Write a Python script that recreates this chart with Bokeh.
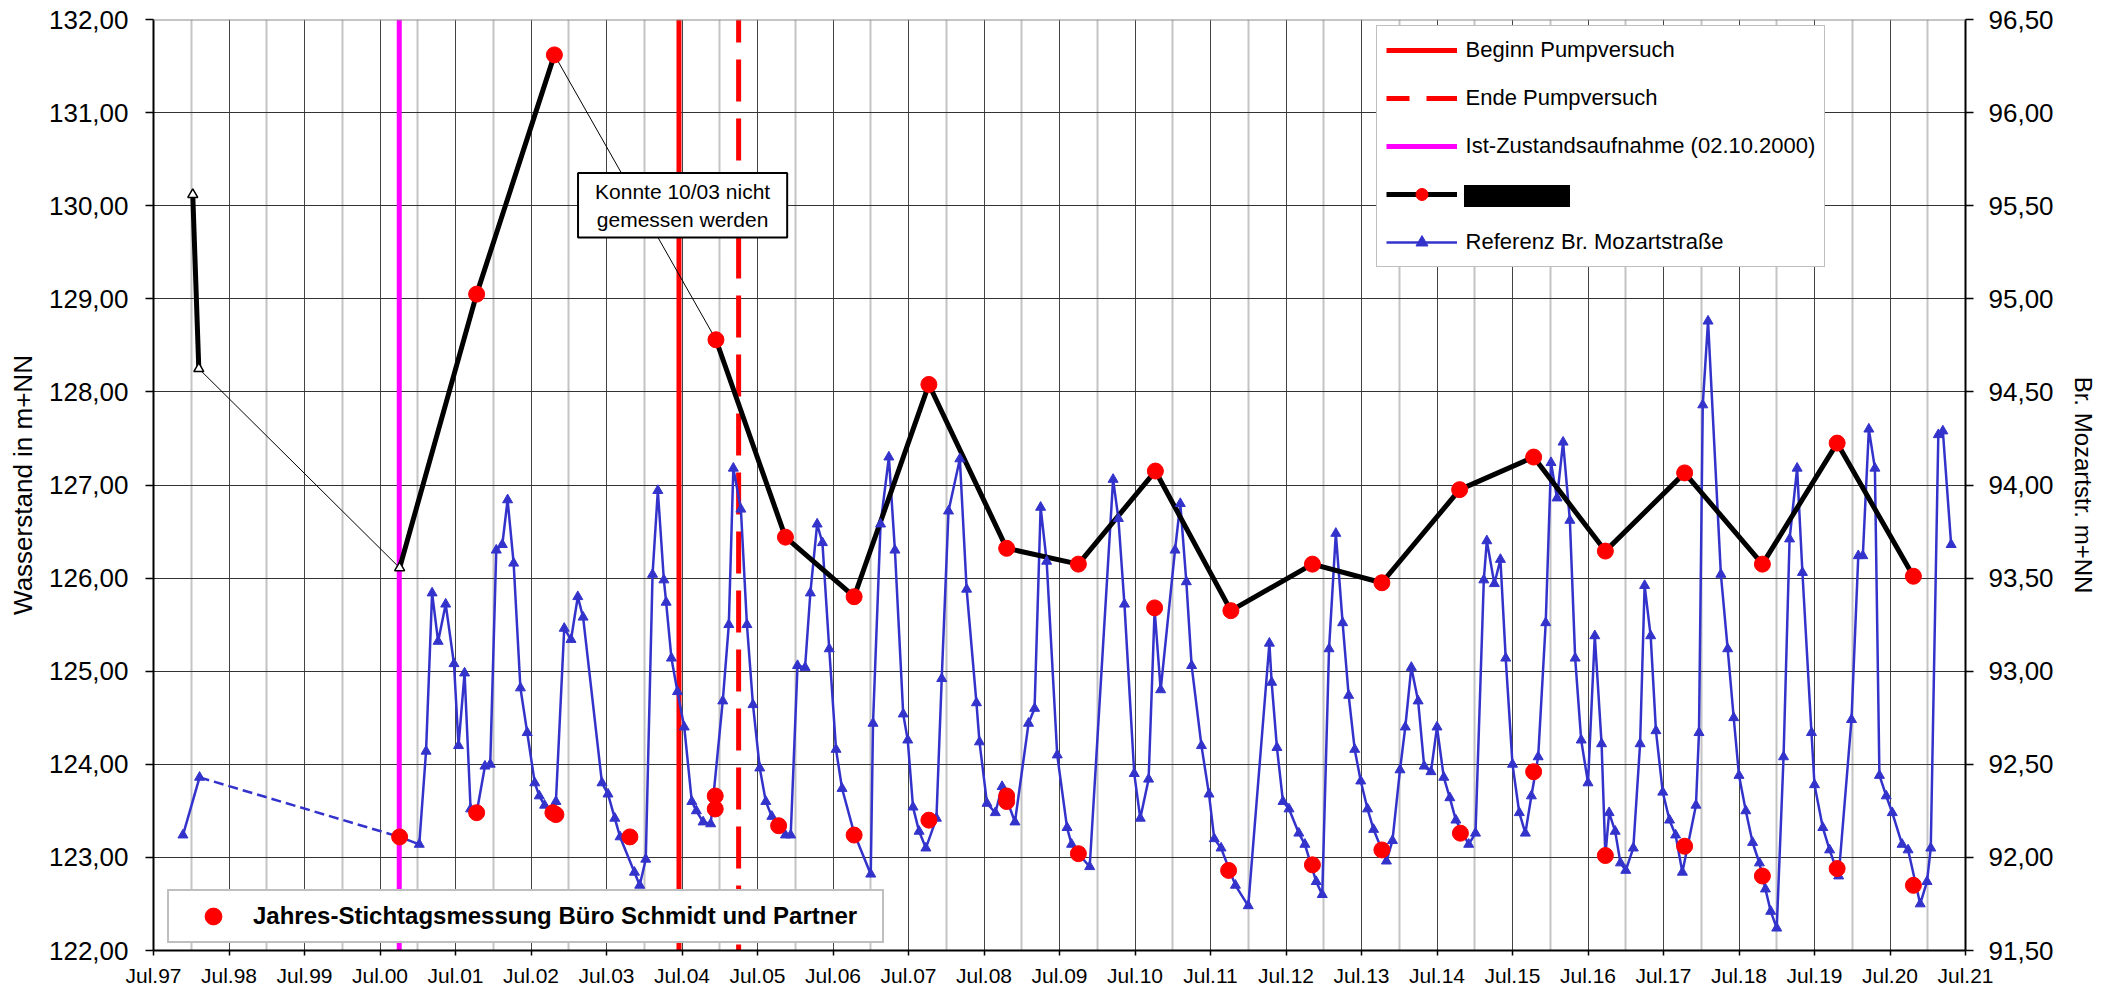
import numpy as np
from bokeh.plotting import figure
from bokeh.models import (Range1d, LinearAxis, FixedTicker, Legend, LegendItem,
                          Label, Span, CustomJSTickFormatter)
from bokeh.embed import file_html
from bokeh.resources import INLINE

FONT = "Liberation Sans"
BLUE = "#3333cc"

# ---------------- data ----------------
x_labels = ["Jul.97", "Jul.98", "Jul.99", "Jul.00", "Jul.01", "Jul.02", "Jul.03",
            "Jul.04", "Jul.05", "Jul.06", "Jul.07", "Jul.08", "Jul.09", "Jul.10",
            "Jul.11", "Jul.12", "Jul.13", "Jul.14", "Jul.15", "Jul.16", "Jul.17",
            "Jul.18", "Jul.19", "Jul.20", "Jul.21"]
x_ticks = [1997.5 + i for i in range(len(x_labels))]          # July of each year
x_minor = [1998 + i for i in range(len(x_labels) - 1)]        # January of each year
left_ticks = [122, 123, 124, 125, 126, 127, 128, 129, 130, 131, 132]
right_ticks = [91.5, 92.0, 92.5, 93.0, 93.5, 94.0, 94.5, 95.0, 95.5, 96.0, 96.5]

# events (decimal years)
pump_start = 2004.46      # Beginn Pumpversuch
pump_end = 2005.25        # Ende Pumpversuch
ist_date = 2000.755       # Ist-Zustandsaufnahme 02.10.2000

# Referenz Br. Mozartstrasse (right axis, m+NN), decimal years
ref_t = [1997.89, 1998.11, 2000.76, 2001.02, 2001.11, 2001.19, 2001.27, 2001.37, 2001.48, 2001.54,
         2001.62, 2001.70, 2001.78, 2001.89, 2001.96, 2002.04, 2002.12, 2002.19, 2002.27, 2002.36,
         2002.45, 2002.55, 2002.61, 2002.68, 2002.76, 2002.83, 2002.94, 2003.03, 2003.12, 2003.19,
         2003.44, 2003.52, 2003.61, 2003.68, 2003.87, 2003.94, 2004.02, 2004.11, 2004.18, 2004.26,
         2004.29, 2004.36, 2004.44, 2004.53, 2004.63, 2004.69, 2004.78, 2004.88, 2005.04, 2005.12,
         2005.18, 2005.28, 2005.36, 2005.44, 2005.53, 2005.61, 2005.69, 2005.87, 2005.94, 2006.03,
         2006.13, 2006.20, 2006.29, 2006.36, 2006.45, 2006.54, 2006.62, 2006.78, 2007.00, 2007.03,
         2007.13, 2007.24, 2007.32, 2007.43, 2007.49, 2007.56, 2007.64, 2007.73, 2007.87, 2007.94,
         2008.03, 2008.18, 2008.27, 2008.40, 2008.44, 2008.54, 2008.65, 2008.74, 2008.91, 2009.09,
         2009.17, 2009.25, 2009.33, 2009.47, 2009.60, 2009.66, 2009.75, 2009.90, 2010.21, 2010.28,
         2010.36, 2010.49, 2010.57, 2010.68, 2010.76, 2010.84, 2011.03, 2011.10, 2011.18, 2011.25,
         2011.38, 2011.48, 2011.55, 2011.64, 2011.83, 2012.00, 2012.28, 2012.31, 2012.38, 2012.46,
         2012.54, 2012.67, 2012.75, 2012.90, 2012.98, 2013.07, 2013.16, 2013.25, 2013.33, 2013.41,
         2013.49, 2013.58, 2013.66, 2013.83, 2013.91, 2014.01, 2014.08, 2014.16, 2014.25, 2014.33,
         2014.42, 2014.50, 2014.59, 2014.67, 2014.75, 2014.92, 2015.01, 2015.12, 2015.16, 2015.26,
         2015.34, 2015.41, 2015.50, 2015.59, 2015.67, 2015.75, 2015.84, 2015.94, 2016.01, 2016.09,
         2016.17, 2016.26, 2016.33, 2016.41, 2016.50, 2016.59, 2016.68, 2016.73, 2016.78, 2016.86,
         2016.93, 2017.00, 2017.10, 2017.19, 2017.25, 2017.33, 2017.40, 2017.49, 2017.58, 2017.66,
         2017.75, 2017.93, 2017.97, 2018.02, 2018.09, 2018.26, 2018.35, 2018.43, 2018.50, 2018.59,
         2018.68, 2018.77, 2018.85, 2018.92, 2019.00, 2019.09, 2019.17, 2019.27, 2019.34, 2019.46,
         2019.50, 2019.61, 2019.70, 2019.82, 2019.99, 2020.08, 2020.14, 2020.22, 2020.30, 2020.36,
         2020.45, 2020.53, 2020.66, 2020.74, 2020.90, 2020.99, 2021.04, 2021.14, 2021.20, 2021.31]
ref_v = [92.12, 92.43, 92.11, 92.07, 92.57, 93.42, 93.16, 93.36, 93.04, 92.60,
         92.99, 92.26, 92.24, 92.49, 92.50, 93.65, 93.68, 93.92, 93.58, 92.91,
         92.67, 92.40, 92.33, 92.28, 92.25, 92.30, 93.23, 93.17, 93.40, 93.29,
         92.40, 92.34, 92.21, 92.11, 91.92, 91.85, 91.99, 93.52, 93.97, 93.49,
         93.37, 93.07, 92.89, 92.70, 92.30, 92.25, 92.19, 92.18, 92.84, 93.25,
         94.09, 93.87, 93.25, 92.82, 92.48, 92.30, 92.22, 92.12, 92.12, 93.03,
         93.02, 93.42, 93.79, 93.69, 93.12, 92.58, 92.37, 92.13, 91.91, 92.72,
         93.79, 94.15, 93.65, 92.77, 92.63, 92.27, 92.14, 92.05, 92.21, 92.96,
         93.86, 94.14, 93.44, 92.83, 92.62, 92.29, 92.24, 92.38, 92.19, 92.72,
         92.80, 93.88, 93.59, 92.55, 92.16, 92.07, 92.02, 91.95, 94.03, 93.82,
         93.36, 92.45, 92.21, 92.42, 93.33, 92.90, 93.65, 93.90, 93.48, 93.03,
         92.60, 92.34, 92.10, 92.05, 91.85, 91.74, 93.15, 92.94, 92.59, 92.30,
         92.26, 92.13, 92.07, 91.87, 91.80, 93.12, 93.74, 93.26, 92.87, 92.58,
         92.41, 92.26, 92.15, 91.98, 92.09, 92.47, 92.70, 93.02, 92.84, 92.49,
         92.46, 92.70, 92.43, 92.32, 92.20, 92.07, 92.13, 93.49, 93.70, 93.47,
         93.60, 93.07, 92.50, 92.24, 92.13, 92.33, 92.54, 93.26, 94.12, 93.93,
         94.23, 93.81, 93.07, 92.63, 92.40, 93.19, 92.61, 92.01, 92.24, 92.14,
         91.97, 91.93, 92.05, 92.61, 93.46, 93.19, 92.68, 92.35, 92.20, 92.12,
         91.92, 92.28, 92.67, 94.43, 94.88, 93.52, 93.12, 92.75, 92.44, 92.25,
         92.08, 91.97, 91.83, 91.71, 91.62, 92.54, 93.71, 94.09, 93.53, 92.67,
         92.39, 92.16, 92.04, 91.90, 92.74, 93.62, 93.62, 94.30, 94.09, 92.44,
         92.33, 92.24, 92.07, 92.04, 91.75, 91.87, 92.05, 94.27, 94.29, 93.68]
ref_gap_after = 1          # no readings between point 1 and point 2 (dashed)

# main well (left axis, Wasserstand in m+NN)
black_t = [1998.02, 1998.10, 2000.76, 2001.78, 2002.81, 2004.95, 2005.87, 2006.78, 2007.77,
           2008.80, 2009.75, 2010.77, 2011.77, 2012.85, 2013.77, 2014.80, 2015.78, 2016.73,
           2017.78, 2018.81, 2019.80, 2020.81]
black_v = [130.12, 128.25, 126.11, 129.05, 131.62, 128.56, 126.44, 125.80, 128.08,
           126.32, 126.15, 127.15, 125.65, 126.15, 125.95, 126.95, 127.30, 126.29,
           127.13, 126.15, 127.45, 126.02]
black_gaps = [1, 4]        # thin connector after these indices (no measurement)
black_n_early = 3          # earlier readings (open triangles)

# Jahres-Stichtagsmessung Buero Schmidt und Partner (right axis)
stich_t = [2000.76, 2001.78, 2002.79, 2002.83, 2003.81, 2004.94, 2004.94, 2005.78, 2006.78,
           2007.77, 2008.80, 2008.80, 2009.75, 2010.76, 2011.74, 2012.85, 2013.77, 2014.81,
           2015.78, 2016.73, 2017.78, 2018.81, 2019.80, 2020.81]
stich_v = [92.11, 92.24, 92.24, 92.23, 92.11, 92.33, 92.26, 92.17, 92.12,
           92.20, 92.33, 92.30, 92.02, 93.34, 91.93, 91.96, 92.04, 92.13,
           92.46, 92.01, 92.06, 91.90, 91.94, 91.85]

assert len(ref_t) == len(ref_v)
assert len(black_t) == len(black_v)
assert len(stich_t) == len(stich_v)

# ---------------- figure ----------------
p = figure(width=2112, height=989, output_backend="svg", toolbar_location=None,
           x_range=Range1d(x_ticks[0], x_ticks[-1]),
           y_range=Range1d(left_ticks[0], left_ticks[-1]),
           min_border_left=153, min_border_right=147, min_border_top=19, min_border_bottom=39,
           background_fill_color="white", border_fill_color="white")
p.outline_line_color = None
p.extra_y_ranges = {"ref": Range1d(right_ticks[0], right_ticks[-1])}

xt = FixedTicker(ticks=x_ticks, minor_ticks=x_minor)
yt = FixedTicker(ticks=left_ticks)
p.xaxis.ticker = xt
p.xgrid.ticker = xt
p.yaxis.ticker = yt
p.ygrid.ticker = yt
p.xaxis.formatter = CustomJSTickFormatter(
    args=dict(labels=x_labels, start=x_ticks[0]),
    code="const i = Math.round(tick - start); return (i >= 0 && i < labels.length) ? labels[i] : '';")
comma_fmt = "return tick.toFixed(2).replace('.', ',');"
p.yaxis.formatter = CustomJSTickFormatter(code=comma_fmt)

p.xgrid.grid_line_color = "#444444"
p.xgrid.grid_line_width = 1
p.xgrid.minor_grid_line_color = "#c4c4c4"
p.xgrid.minor_grid_line_width = 2
p.ygrid.grid_line_color = "#333333"
p.ygrid.grid_line_width = 1.2

right_axis = LinearAxis(y_range_name="ref", ticker=FixedTicker(ticks=right_ticks),
                        formatter=CustomJSTickFormatter(code=comma_fmt),
                        axis_label="Br. Mozartstr. m+NN")
p.add_layout(right_axis, "right")

for ax in [p.xaxis[0], p.yaxis[0], right_axis]:
    ax.axis_line_color = "black"
    ax.axis_line_width = 2
    ax.major_tick_line_color = "black"
    ax.major_tick_line_width = 1.5
    ax.major_tick_in = 0
    ax.minor_tick_line_color = None
    ax.major_label_text_font = FONT
    ax.major_label_text_color = "black"
    ax.axis_label_text_font = FONT
    ax.axis_label_text_color = "black"
    ax.axis_label_text_font_style = "normal"

p.xaxis.major_tick_out = 5
p.xaxis.major_label_standoff = 8
p.xaxis.major_label_text_font_size = "21px"

p.yaxis[0].axis_label = "Wasserstand in m+NN"
p.yaxis[0].major_tick_out = 8
p.yaxis[0].major_label_standoff = 17
p.yaxis[0].major_label_text_font_size = "26px"
p.yaxis[0].axis_label_text_font_size = "26px"
p.yaxis[0].axis_label_standoff = 8

right_axis.major_tick_out = 8
right_axis.major_label_standoff = 15
right_axis.major_label_text_font_size = "26px"
right_axis.axis_label_text_font_size = "24px"
right_axis.axis_label_standoff = 13

ytop, ybot = left_ticks[-1], left_ticks[0]

# vertical event lines
r_begin = p.line([pump_start, pump_start], [ytop, ybot], line_color="#ff0000", line_width=5)
r_end = p.line([pump_end, pump_end], [ytop, ybot], line_color="#ff0000", line_width=5,
               line_dash="42 17", line_dash_offset=19)
r_ist = p.line([ist_date, ist_date], [ytop, ybot], line_color="#ff00ff", line_width=5)

# reference series
g = ref_gap_after
p.line(ref_t[g:g + 2], ref_v[g:g + 2], y_range_name="ref", line_color=BLUE,
       line_width=2.5, line_dash="10 5")
p.line(ref_t[:g + 1], ref_v[:g + 1], y_range_name="ref", line_color=BLUE, line_width=2.5)
r_ref = p.line(ref_t[g + 1:], ref_v[g + 1:], y_range_name="ref", line_color=BLUE, line_width=2.5)

# main series
bx, by = [], []
for i, (t, v) in enumerate(zip(black_t, black_v)):
    bx.append(t)
    by.append(v)
    if i in black_gaps:
        bx.append(np.nan)
        by.append(np.nan)
p.multi_line([[black_t[i], black_t[i + 1]] for i in black_gaps],
             [[black_v[i], black_v[i + 1]] for i in black_gaps],
             line_color="black", line_width=1)
r_black = p.line(np.array(bx), np.array(by), line_color="black", line_width=5)

r_ref_pts = p.scatter(ref_t, ref_v, y_range_name="ref", marker="triangle", size=10,
                      fill_color=BLUE, line_color=BLUE)
p.scatter(black_t[:black_n_early], black_v[:black_n_early], marker="triangle", size=10,
          fill_color="white", line_color="black", line_width=1.5)
r_black_dots = p.scatter(black_t[black_n_early:], black_v[black_n_early:], size=16,
                         fill_color="#ff0000", line_color="#ff0000")
r_stich = p.scatter(stich_t, stich_v, y_range_name="ref", size=16,
                    fill_color="#ff0000", line_color="#ff0000")

# top frame border
p.add_layout(Span(location=ytop, dimension="width", line_color="#8c8c8c", line_width=2))

# annotation box
p.add_layout(Label(x=2004.508, y=130.005, text="Konnte 10/03 nicht\ngemessen werden",
                   text_align="center", text_baseline="middle", text_font=FONT,
                   text_font_size="21px", text_color="black",
                   background_fill_color="white", background_fill_alpha=1,
                   border_line_color="black", border_line_width=2,
                   padding=dict(x=17, y=7)))

# legends
leg = Legend(items=[
    LegendItem(label="Beginn Pumpversuch", renderers=[r_begin]),
    LegendItem(label="Ende Pumpversuch", renderers=[r_end]),
    LegendItem(label="Ist-Zustandsaufnahme (02.10.2000)", renderers=[r_ist]),
    LegendItem(label=" ", renderers=[r_black, r_black_dots]),
    LegendItem(label="Referenz Br. Mozartstraße", renderers=[r_ref, r_ref_pts]),
], location=(1222.6, 682.7), orientation="vertical",
    label_text_font=FONT, label_text_font_size="22px", label_text_color="black",
    glyph_width=71, glyph_height=30, label_standoff=9, spacing=18, padding=9, margin=0,
    border_line_color="#7f7f7f", border_line_width=1.5,
    background_fill_color="white", background_fill_alpha=1)
p.add_layout(leg)

# redacted legend label: a solid black block laid over the 4th legend row
r_blank = p.line([], [], line_alpha=0)
leg_black = Legend(items=[LegendItem(label=" ", renderers=[r_blank])],
                   location=(1311.3, 743.3), orientation="vertical",
                   label_text_font=FONT, label_text_font_size="2px",
                   glyph_width=1, glyph_height=22, label_height=22, label_width=105,
                   label_standoff=0, padding=0, margin=0, spacing=0,
                   border_line_color=None,
                   background_fill_color="black", background_fill_alpha=1)
p.add_layout(leg_black)

leg2 = Legend(items=[
    LegendItem(label="Jahres-Stichtagsmessung Büro Schmidt und Partner", renderers=[r_stich]),
], location=(14, 7), orientation="vertical",
    label_text_font=FONT, label_text_font_size="24px", label_text_font_style="bold",
    label_text_color="black",
    glyph_width=80, glyph_height=42, label_standoff=0, label_width=625, padding=4, margin=0,
    border_line_color="#808080", border_line_width=2.5,
    background_fill_color="white", background_fill_alpha=1)
p.add_layout(leg2)

open("out.html", "w").write(file_html(p, INLINE, "Wasserstand"))
